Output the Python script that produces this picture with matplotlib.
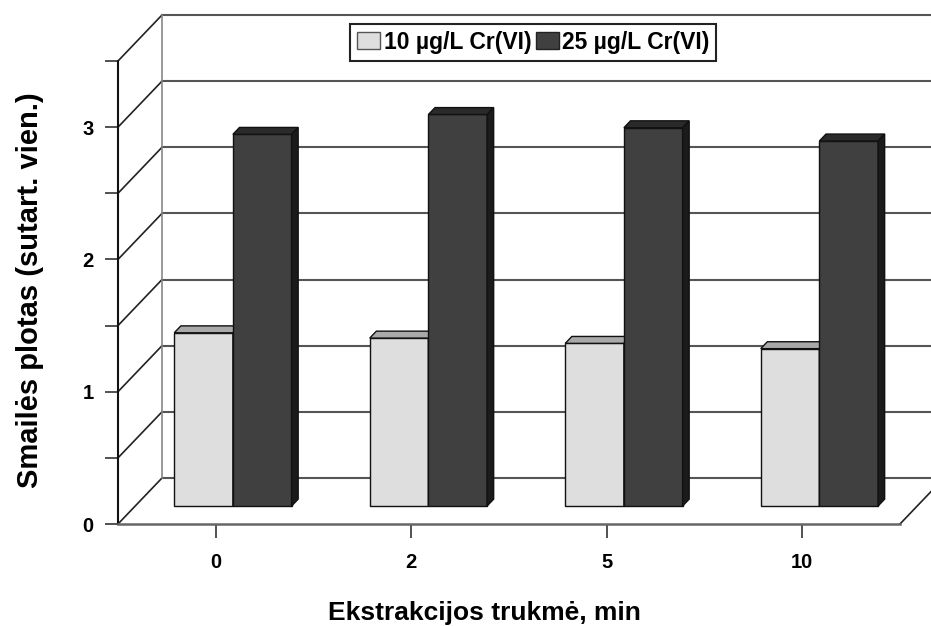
import matplotlib
matplotlib.use('Agg')
import matplotlib.pyplot as plt
from matplotlib.patches import Polygon, Rectangle
import numpy as np

plt.rcParams['font.family'] = ['Liberation Sans', 'DejaVu Sans']
plt.rcParams['font.weight'] = 'bold'

# data
times = ['0', '2', '5', '10']
cr10 = [1.31, 1.27, 1.23, 1.19]   # 10 µg/L Cr(VI)
cr25 = [2.81, 2.96, 2.86, 2.76]   # 25 µg/L Cr(VI)
series = ['10 µg/L Cr(VI)', '25 µg/L Cr(VI)']
yticks = [0, 1, 2, 3]

fig = plt.figure(figsize=(9.31, 6.26), dpi=100)
ax = fig.add_axes([118 / 931, 102 / 626, 782 / 931, 463 / 626])
ax.set_xlim(-0.5, 3.5)
ax.set_ylim(0, 3.5)

# oblique depth: full wall depth moves 44 px right, 46 px up
kx = 44 / (ax.bbox.width / 4.0)
ky = 46 / (ax.bbox.height / 3.5)


def proj(x, y, z):
    return (x + z * kx, y + z * ky)


grid_c = '#555555'
# back wall gridlines + left wall diagonals
for v in np.arange(0, 3.51, 0.5):
    p0 = proj(-0.5, v, 1)
    p1 = proj(3.6, v, 1)
    ax.plot([p0[0], p1[0]], [p0[1], p1[1]], color=grid_c, lw=1.5, clip_on=False, zorder=1)
    ax.plot([-0.5, p0[0]], [v, p0[1]], color='#222222', lw=1.2, clip_on=False, zorder=1)
b0 = proj(-0.5, 0, 1)
b1 = proj(-0.5, 3.5, 1)
ax.plot([b0[0], b1[0]], [b0[1], b1[1]], color='#888888', lw=1.2, clip_on=False, zorder=1)
# floor right edge
f1 = proj(3.5, 0, 1)
ax.plot([3.5, f1[0]], [0, f1[1]], color='#222222', lw=1.2, clip_on=False, zorder=1)

# bars
zf, zb = 0.39, 0.54
w = 0.3
x = np.arange(len(times))
styles = [
    dict(front='#dedede', top='#a9a9a9', side='#b5b5b5'),
    dict(front='#404040', top='#2a2a2a', side='#1b1b1b'),
]
for i in range(len(times)):
    for j, vals in enumerate([cr10, cr25]):
        x0 = x[i] - w + j * w
        x1 = x0 + w
        h = vals[i]
        st = styles[j]
        fx, fy = proj(x0, 0, zf)
        ax.bar(fx, h, width=w, bottom=fy, align='edge', color=st['front'],
               edgecolor='#111111', lw=1, clip_on=False, zorder=3)
        top = [proj(x0, h, zf), proj(x1, h, zf), proj(x1, h, zb), proj(x0, h, zb)]
        side = [proj(x1, 0, zf), proj(x1, h, zf), proj(x1, h, zb), proj(x1, 0, zb)]
        ax.add_patch(Polygon(top, closed=True, fc=st['top'], ec='#111111', lw=1,
                             clip_on=False, zorder=3))
        ax.add_patch(Polygon(side, closed=True, fc=st['side'], ec='#111111', lw=1,
                             clip_on=False, zorder=3))

# axes
for s in ['top', 'right']:
    ax.spines[s].set_visible(False)
ax.spines['left'].set_linewidth(1.5)
ax.spines['left'].set_color('#111111')
ax.spines['bottom'].set_linewidth(1.8)
ax.spines['bottom'].set_color('#666666')
ax.set_yticks(yticks)
ax.set_yticks([0.5, 1.5, 2.5, 3.5], minor=True)
ax.set_yticklabels([str(t) for t in yticks])
ax.tick_params(axis='y', which='both', length=9.5, width=1.2, color='#333333', pad=8,
               labelsize=14.5)
ax.set_xticks(x)
ax.set_xticklabels(times)
ax.tick_params(axis='x', length=10, width=1.2, color='#333333', pad=11, labelsize=14.5)
ax.patch.set_visible(False)

ax.set_xlabel('Ekstrakcijos trukmė, min', fontsize=19, fontweight='bold')
ax.xaxis.set_label_coords(0.469, -0.166)
ax.set_ylabel('Smailės plotas (sutart. vien.)', fontsize=21, fontweight='bold')
ax.yaxis.set_label_coords(-0.095, 0.505)

handles = [Rectangle((0, 0), 1, 1, fc=styles[0]['front'], ec='#555555', lw=1),
           Rectangle((0, 0), 1, 1, fc=styles[1]['front'], ec='#222222', lw=1)]
leg = fig.legend(handles, series, loc='upper center', bbox_to_anchor=(0.573, 0.962),
                 ncol=2, fancybox=False, framealpha=1, edgecolor='#222222',
                 handlelength=1.0, handleheight=0.8, handletextpad=0.15,
                 columnspacing=0.2, borderpad=0.3, borderaxespad=0,
                 prop=dict(size=16.5, weight='bold'))
leg.get_frame().set_linewidth(1.5)

fig.savefig('out.png', dpi=100)
